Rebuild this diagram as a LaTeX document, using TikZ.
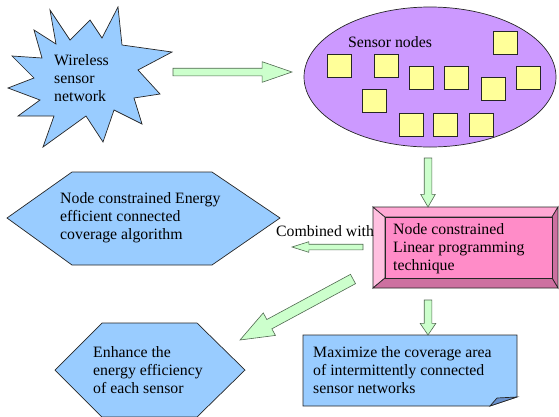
\documentclass[tikz,border=0pt]{standalone}
\usepackage{fontspec}
\setmainfont{Liberation Serif}
\usepackage{tikz}
\usetikzlibrary{calc}
\usetikzlibrary{shapes.geometric}
\usetikzlibrary{shapes.arrows}
\usepackage{xcolor}
\definecolor{skyfill}{RGB}{153,204,255}
\definecolor{lilacfill}{RGB}{204,153,255}
\definecolor{padfill}{RGB}{255,255,153}
\definecolor{mintfill}{RGB}{204,255,204}
\definecolor{mintline}{RGB}{80,105,80}
\definecolor{rosefill}{RGB}{255,140,200}
\definecolor{roselight}{RGB}{255,192,224}
\definecolor{rosemid}{RGB}{255,168,212}
\definecolor{rosedark}{RGB}{205,112,160}
\definecolor{folddark}{RGB}{105,145,205}
\newcommand{\blockarrow}[3][]{%
  \path let \p1=(#2), \p2=(#3),
    \n1={atan2(\y2-\y1,\x2-\x1)}, \n2={veclen(\x2-\x1,\y2-\y1)} in
    node[fatarrow,#1,minimum height=\n2,rotate=\n1,anchor=tail] at (\p1) {};}

\begin{document}
\begin{tikzpicture}[x=1pt,y=-1pt]
\tikzstyle{every node}=[font=\fontsize{15.8}{18}\selectfont, inner sep=0pt]
\tikzstyle{outline}=[draw=black!85, line width=0.7pt]
\tikzstyle{sensor}=[rectangle, draw=black!85, fill=padfill, line width=0.7pt, minimum width=24, minimum height=23]
\tikzstyle{fatarrow}=[single arrow, draw=mintline, fill=mintfill, line width=0.6pt, minimum width=0pt, outer sep=0pt]
\useasboundingbox (0,0) rectangle (559,416);
\clip (0,0) rectangle (559,416);

% wireless sensor network burst
\draw[outline, fill=skyfill] (50,10) -- (70,40) -- (90,20) -- (102,38) -- (118,7) -- (122,45)
  -- (172,52) -- (138,70) -- (160,94) -- (134,98) -- (142,124) -- (114,110) -- (103,142)
  -- (86,116) -- (43,147) -- (54,116) -- (18,116) -- (40,100) -- (8,88) -- (34,78)
  -- (12,56) -- (42,58) -- (34,30) -- (56,44) -- cycle;
\node[align=left, anchor=west] (wsn) at (54,78) {Wireless\\sensor\\network};

% sensor field
\node[ellipse, outline, fill=lilacfill, minimum width=252, minimum height=140] (field) at (430,77) {};
\node (fieldlabel) at (390,42) {Sensor nodes};
\foreach \px/\py [count=\i] in {339/66, 386/66, 421/78, 456/78, 505/43, 493/89, 528/78,
  374/101, 411/125, 445/125, 481/125}
  \node[sensor] (s\i) at (\px,\py) {};

% bevelled box
\draw[outline, fill=roselight] (373,207) -- (385,217) -- (385,278) -- (373,288) -- cycle;
\draw[outline, fill=rosemid] (373,207) -- (558,207) -- (552,217) -- (385,217) -- cycle;
\draw[outline, fill=rosedark] (558,207) -- (558,288) -- (552,278) -- (552,217) -- cycle;
\draw[outline, fill=rosedark] (373,288) -- (558,288) -- (552,278) -- (385,278) -- cycle;
\draw[outline, fill=rosefill] (385,217) rectangle (552,278);
\node[align=left, anchor=west] (lp) at (393,249) {Node constrained\\Linear programming\\technique};
\node (combined) at (325,231) {Combined with};

% hexagons
\draw[outline, fill=skyfill] (7,218) -- (72,172) -- (212,172) -- (280,218) -- (212,265) -- (72,265) -- cycle;
\node[align=left, anchor=west] (necc) at (60,218) {Node constrained Energy\\efficient connected\\coverage algorithm};
\draw[outline, fill=skyfill] (55,370) -- (102,323) -- (197,323) -- (245,370) -- (197,417) -- (102,417) -- cycle;
\node[align=left, anchor=west] (enhance) at (93,370) {Enhance the\\energy efficiency\\of each sensor};

% note with folded corner
\draw[outline, fill=skyfill] (303,335) -- (517,335) -- (517,397) -- (490,406) -- (303,406) -- cycle;
\draw[outline, fill=folddark] (490,406) -- (497,398) -- (517,397) -- cycle;
\node[align=left, anchor=west] (maxcov) at (313,370) {Maximize the coverage area\\of intermittently connected\\sensor networks};

% connectors
\coordinate (wsn-out) at (173,72);
\coordinate (field-in) at (292,72);
\coordinate (field-out) at (428,158);
\coordinate (lp-in) at (428,207);
\coordinate (lp-west) at (363,247);
\coordinate (necc-in) at (292,247);
\coordinate (lp-sw) at (353,279);
\coordinate (enhance-in) at (240,340);
\coordinate (lp-south) at (428,300);
\coordinate (maxcov-in) at (428,335);
\blockarrow[inner sep=3.5pt, single arrow head extend=6.5pt, single arrow tip angle=38]{wsn-out}{field-in}
\blockarrow[inner sep=3.5pt, single arrow head extend=3.5pt, single arrow tip angle=60]{field-out}{lp-in}
\blockarrow[inner sep=2.5pt, single arrow head extend=2.5pt, single arrow tip angle=35]{lp-west}{necc-in}
\blockarrow[inner sep=5pt, single arrow head extend=7.5pt, single arrow tip angle=42]{lp-sw}{enhance-in}
\blockarrow[inner sep=3.5pt, single arrow head extend=4pt, single arrow tip angle=68]{lp-south}{maxcov-in}
\end{tikzpicture}
\end{document}
